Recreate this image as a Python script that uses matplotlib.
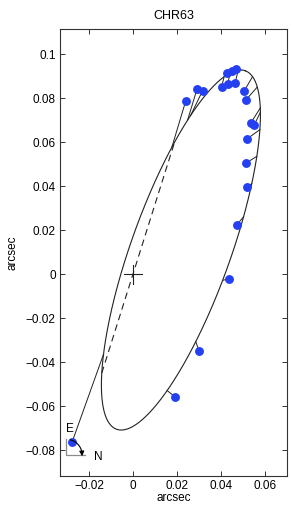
import numpy as np
import matplotlib
matplotlib.use("Agg")
import matplotlib.pyplot as plt
from matplotlib.ticker import FuncFormatter

plt.rcParams['font.family'] = ['Liberation Sans', 'DejaVu Sans']

title = "CHR63"

# apparent orbit (arcsec, degrees)
orbit_center = (0.02180, 0.01098)
orbit_semi_major = 0.08661
orbit_semi_minor = 0.02259
orbit_angle = 70.26
node_angle = 72.5

# observed positions (arcsec)
obs_x = [-0.0277, 0.0192, 0.0301, 0.0438, 0.0471, 0.0518, 0.0515, 0.0517, 0.0536, 0.0550,
         0.0515, 0.0506, 0.0468, 0.0449, 0.0429, 0.0464, 0.0430, 0.0403, 0.0317, 0.0292, 0.0240]
obs_y = [-0.0764, -0.0559, -0.0350, -0.0020, 0.0223, 0.0395, 0.0506, 0.0614, 0.0688, 0.0676,
         0.0794, 0.0833, 0.0932, 0.0923, 0.0917, 0.0867, 0.0864, 0.0851, 0.0835, 0.0844, 0.0788]

# predicted positions (arcsec), snapped onto the orbit below
mod_x = [-0.0140, 0.0153, 0.0286, 0.0414, 0.0509, 0.0543, 0.0565, 0.0577, 0.0575, 0.0580,
         0.0562, 0.0532, 0.0491, 0.0477, 0.0455, 0.0480, 0.0448, 0.0418, 0.0259, 0.0241, 0.0176]
mod_y = [-0.0364, -0.0527, -0.0308, -0.0030, 0.0260, 0.0411, 0.0536, 0.0658, 0.0755, 0.0736,
         0.0850, 0.0890, 0.0916, 0.0914, 0.0907, 0.0916, 0.0905, 0.0893, 0.0723, 0.0705, 0.0579]

x_ticks = [-0.02, 0, 0.02, 0.04, 0.06]
y_ticks = [-0.08, -0.06, -0.04, -0.02, 0, 0.02, 0.04, 0.06, 0.08, 0.1]

# ---- ellipse geometry
cx, cy = orbit_center
a, b = orbit_semi_major, orbit_semi_minor
th = np.radians(orbit_angle)
t = np.linspace(0, 2*np.pi, 2000)
ex = cx + a*np.cos(th)*np.cos(t) - b*np.sin(th)*np.sin(t)
ey = cy + a*np.sin(th)*np.cos(t) + b*np.cos(th)*np.sin(t)

def snap(px, py):
    d = (ex - px)**2 + (ey - py)**2
    k = np.argmin(d)
    return ex[k], ey[k]

# line of nodes: intersections of line through origin with the ellipse
ph = np.radians(node_angle)
s = np.linspace(-0.2, 0.2, 40001)
lx, ly = s*np.cos(ph), s*np.sin(ph)
u = ((lx-cx)*np.cos(th) + (ly-cy)*np.sin(th))/a
v = (-(lx-cx)*np.sin(th) + (ly-cy)*np.cos(th))/b
inside = (u*u + v*v) <= 1
idx = np.where(inside)[0]
s0, s1 = s[idx[0]], s[idx[-1]]

fig = plt.figure(figsize=(2.91, 5.12), dpi=100)
ax = fig.add_axes([0.206, 0.0703, 0.78, 0.8727])

ax.plot(ex, ey, color='#222222', lw=0.8, zorder=2)
ax.plot([s0*np.cos(ph), s1*np.cos(ph)], [s0*np.sin(ph), s1*np.sin(ph)],
        color='#222222', lw=0.8, ls=(0, (6, 4)), zorder=2)

for ox, oy, mx, my in zip(obs_x, obs_y, mod_x, mod_y):
    sx, sy = snap(mx, my)
    ax.plot([ox, sx], [oy, sy], color='#222222', lw=0.7, zorder=3)

ax.plot(obs_x, obs_y, 'o', color='#2440f2', ms=6.4, mec='none', zorder=4)

# primary star cross
cr = 0.0043
ax.plot([-cr, cr], [0, 0], color='#222222', lw=0.8, zorder=3)
ax.plot([0, 0], [-cr, cr], color='#222222', lw=0.8, zorder=3)

# compass
c0x, c0y = -0.0303, -0.0823
ax.plot([c0x, c0x, -0.0218], [-0.0750, c0y, c0y], color='0.55', lw=0.9, zorder=1)
r = 0.0072
ang = np.radians(np.linspace(75, 12, 50))
ax.plot(c0x + r*np.cos(ang), c0y + r*np.sin(ang), color='k', lw=0.8, zorder=5)
ax.annotate('', xy=(c0x + r*np.cos(np.radians(-4)), c0y + r*np.sin(np.radians(-4))),
            xytext=(c0x + r*np.cos(np.radians(12)), c0y + r*np.sin(np.radians(12))),
            arrowprops=dict(arrowstyle='-|>', color='k', lw=0.8, mutation_scale=7,
                            shrinkA=0, shrinkB=0), zorder=5)
ax.text(-0.0286, -0.0702, 'E', fontsize=8.5, ha='center', va='center')
ax.text(-0.0158, -0.0830, 'N', fontsize=8.5, ha='center', va='center')

ax.set_xlim(-0.0332, 0.0700)
ax.set_ylim(-0.0918, 0.1114)
ax.set_aspect('equal', adjustable='box')

fmt = FuncFormatter(lambda val, pos: ('%g' % round(val, 4)).replace('-', '\u2212'))
ax.set_xticks(x_ticks)
ax.set_yticks(y_ticks)
ax.xaxis.set_major_formatter(fmt)
ax.yaxis.set_major_formatter(fmt)
ax.tick_params(direction='in', length=3.5, width=0.7, labelsize=8.5, top=True, right=True,
               pad=3, color='#333333')
for sp in ax.spines.values():
    sp.set_linewidth(0.8)
    sp.set_color('#333333')

ax.set_xlabel('arcsec', fontsize=8.5, labelpad=0)
ax.set_ylabel('arcsec', fontsize=8.5, labelpad=5)
ax.set_title(title, fontsize=9, pad=7)

fig.savefig('out.png', dpi=100)
